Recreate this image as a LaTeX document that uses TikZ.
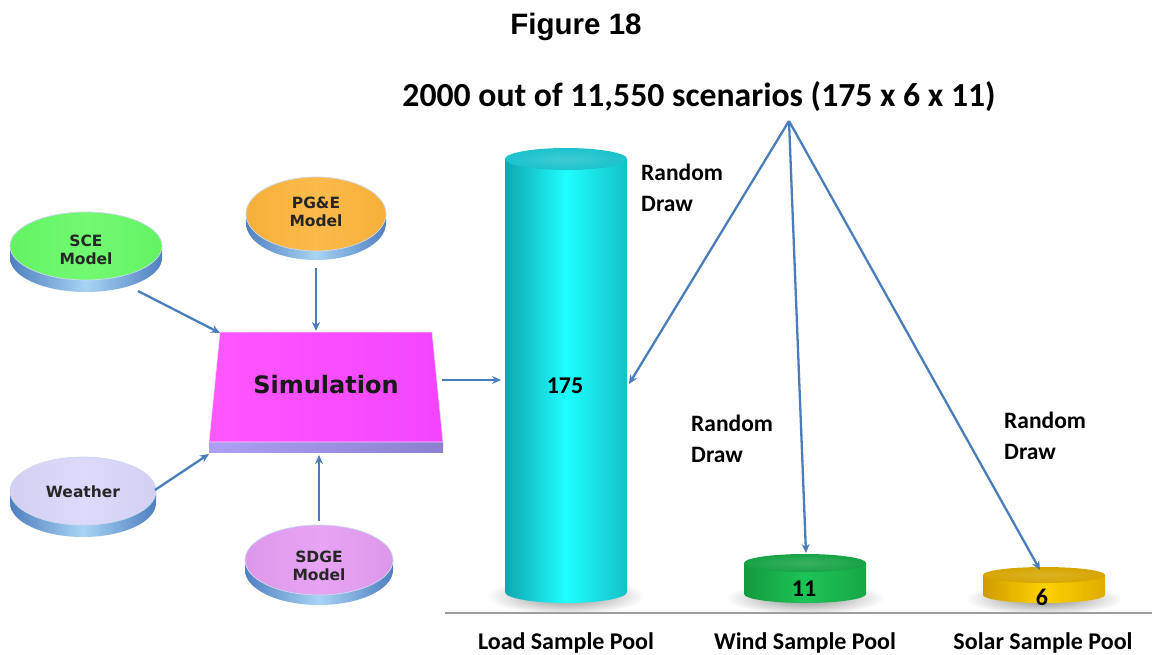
\documentclass[tikz,border=0pt]{standalone}
\usepackage{fontspec}
\setmainfont{Carlito}
\newfontfamily\verd{DejaVu Sans}
\newfontfamily\arialf{Liberation Sans}
\usetikzlibrary{arrows.meta}
\definecolor{arrowblue}{HTML}{4A7EBB}
\definecolor{sidedark}{HTML}{4F7FC0}
\definecolor{sidelight}{HTML}{A8D4F4}
\definecolor{scegreen}{HTML}{66FA66}
\definecolor{pgeorange}{HTML}{FDB53C}
\definecolor{weathlav}{HTML}{DAD6FA}
\definecolor{sdgeviolet}{HTML}{E49CF2}
\definecolor{simmag}{HTML}{FF48FF}
\definecolor{simstrip}{HTML}{A496F4}
\definecolor{cyandark}{HTML}{0FA6B0}
\definecolor{cyanlight}{HTML}{1EFFFF}
\definecolor{cyantop}{HTML}{1CC2CC}
\definecolor{greendark}{HTML}{139A3E}
\definecolor{greenlight}{HTML}{1EC457}
\definecolor{greentop}{HTML}{17A346}
\definecolor{golddark}{HTML}{CF9C00}
\definecolor{goldlight}{HTML}{FFD200}
\definecolor{goldtop}{HTML}{D6A500}
\newcommand\mydisc[6]{%
  \shade[left color=sidedark, right color=sidedark, middle color=sidelight]
    ({#1-#3},{-#2}) -- ({#1-#3},{-#2-#5})
    arc[start angle=180,end angle=360,x radius=#3,y radius=#4]
    -- ({#1+#3},{-#2})
    arc[start angle=360,end angle=180,x radius=#3,y radius=#4] -- cycle;
  \shade[left color=#6!97!black, right color=#6!97!black, middle color=#6!92!white]
    (#1,-#2) ellipse[x radius=#3,y radius=#4];
  \draw[white!70!sidedark, line width=0.7pt] (#1,-#2) ellipse[x radius=#3,y radius=#4];
}
% cylinder: cx, topy, boty, rx, ry, dark, light, top
\newcommand\mycyl[8]{%
  \shade[inner color=black!45, outer color=white]
    (#1,{-#3-4}) ellipse[x radius={#4+18},y radius={#5+8}];
  \shade[left color=#6, right color=#6!70!#7, middle color=#7]
    ({#1-#4},{-#2}) -- ({#1-#4},{-#3})
    arc[start angle=180,end angle=360,x radius=#4,y radius=#5]
    -- ({#1+#4},{-#2}) -- cycle;
  \shade[inner color=#8!85!white, outer color=#8]
    (#1,-#2) ellipse[x radius=#4,y radius=#5];
}
\tikzset{
  conn/.style={draw=arrowblue, line width=2.3pt, -{Stealth[length=9pt,width=8pt]}},
  disclabel/.style={font=\verd\bfseries\fontsize{15.5}{18.5}\selectfont, align=center, inner sep=0pt, text=black!85},
  rdlabel/.style={font=\bfseries\fontsize{23.5}{31}\selectfont, align=left, inner sep=0pt, anchor=west},
  poollabel/.style={font=\bfseries\fontsize{24}{26}\selectfont, inner sep=0pt},
  numlabel/.style={font=\bfseries\fontsize{24}{26}\selectfont, inner sep=0pt},
}
\begin{document}
\begin{tikzpicture}[x=1pt,y=1pt]
\useasboundingbox (0,0) rectangle (1152,-654);
\fill[white] (0,0) rectangle (1152,-654);

% titles
\node[font=\arialf\bfseries\fontsize{29.5}{32}\selectfont, inner sep=0pt] (fig) at (576,-27) {Figure 18};
\node[font=\bfseries\fontsize{33.7}{36}\selectfont, inner sep=0pt] (title) at (699,-97) {2000 out of 11,550 scenarios (175 x 6 x 11)};

% discs
\mydisc{86}{246}{76}{34}{12}{scegreen}
\mydisc{316}{214}{70}{37}{9}{pgeorange}
\mydisc{83}{491}{73}{34}{12}{weathlav}
\mydisc{319}{560}{74}{35}{10}{sdgeviolet}
\node[disclabel] (sce) at (86,-250) {SCE\\Model};
\node[disclabel] (pge) at (316,-212) {PG\&E\\Model};
\node[disclabel] (weather) at (83,-492) {Weather};
\node[disclabel] (sdge) at (319,-566) {SDGE\\Model};

% simulation box
\shade[left color=simstrip!90!white, right color=simstrip!85!black]
  (209,-442) -- (443,-442) -- (443,-452) -- (209,-452) -- cycle;
\shade[left color=simmag!92!white, right color=simmag!95!blue]
  (220,-332) -- (432,-332) -- (443,-442) -- (209,-442) -- cycle;
\draw[white!70!simstrip, line width=0.6pt] (220,-332) -- (432,-332) -- (443,-442) -- (209,-442) -- cycle;
\node[font=\verd\bfseries\fontsize{24}{26}\selectfont, inner sep=0pt, text=black!90] (sim) at (326,-385) {Simulation};

% cylinders
\mycyl{566}{159}{592}{61}{11}{cyandark}{cyanlight}{cyantop}
\mycyl{805}{563}{594}{61}{9}{greendark}{greenlight}{greentop}
\mycyl{1044}{575}{595}{61}{8}{golddark}{goldlight}{goldtop}
\node[numlabel] (n175) at (565,-386) {175};
\node[numlabel] (n11) at (804,-589) {11};
\node[numlabel] (n6) at (1042,-597) {6};

% baseline
\draw[black!38, line width=1.3pt] (445,-613) -- (1152,-613);
\node[poollabel] (loadp) at (566,-643) {Load Sample Pool};
\node[poollabel] (windp) at (805,-643) {Wind Sample Pool};
\node[poollabel] (solarp) at (1043,-643) {Solar Sample Pool};

% random draw labels
\node[rdlabel] (rd1) at (641,-188) {Random\\Draw};
\node[rdlabel] (rd2) at (691,-439) {Random\\Draw};
\node[rdlabel] (rd3) at (1004,-436) {Random\\Draw};

% connector points
\coordinate (sceOut) at (138,-291);
\coordinate (simTL) at (220,-333);
\coordinate (pgeOut) at (316,-268);
\coordinate (simTop) at (316,-331);
\coordinate (weathOut) at (155,-490);
\coordinate (simBL) at (209,-454);
\coordinate (sdgeOut) at (319,-521);
\coordinate (simBot) at (319,-455);
\coordinate (simR) at (442,-380);
\coordinate (loadL) at (501,-380);
\coordinate (apex) at (789,-121);
\coordinate (loadIn) at (629,-384);
\coordinate (windIn) at (806,-553);
\coordinate (solarIn) at (1040,-570);

\draw[conn] (sceOut) -- (simTL);
\draw[conn] (pgeOut) -- (simTop);
\draw[conn] (weathOut) -- (simBL);
\draw[conn] (sdgeOut) -- (simBot);
\draw[conn] (simR) -- (loadL);
\draw[conn] (apex) -- (loadIn);
\draw[conn] (apex) -- (windIn);
\draw[conn] (apex) -- (solarIn);
\end{tikzpicture}
\end{document}
